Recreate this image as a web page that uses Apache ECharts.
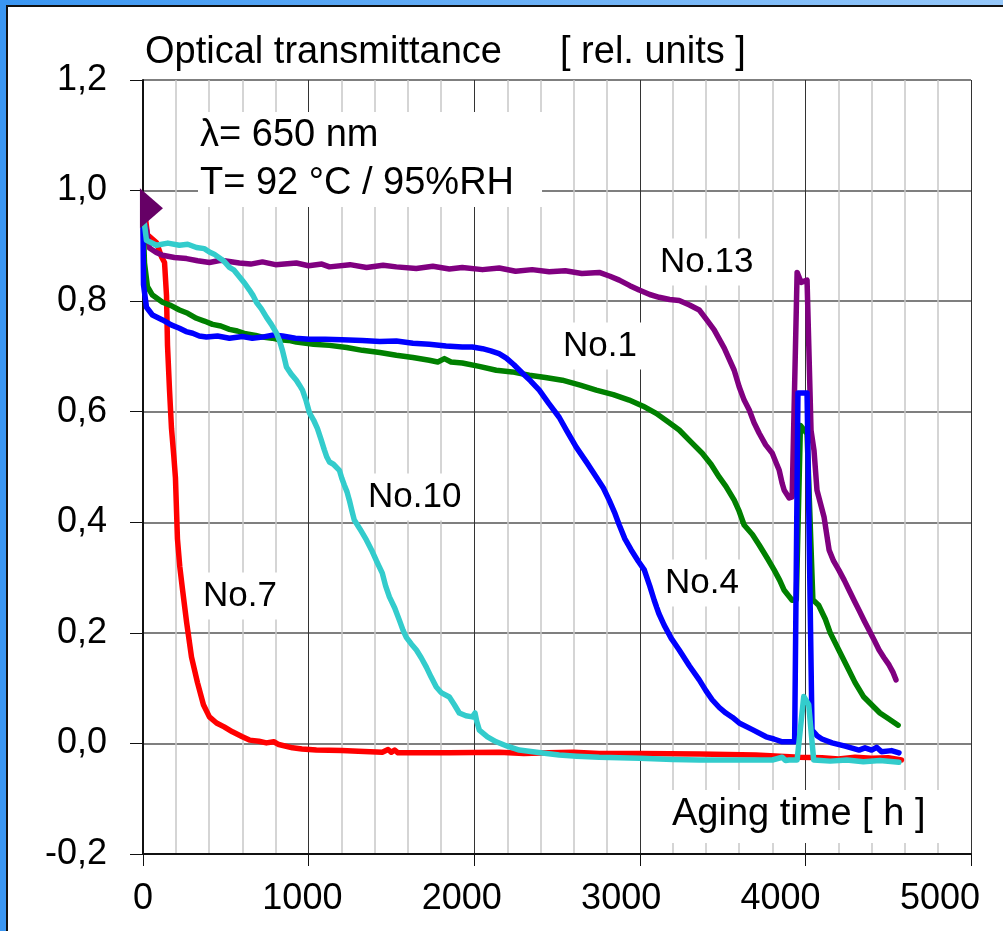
<!DOCTYPE html>
<html>
<head>
<meta charset="utf-8">
<script src="https://cdn.jsdelivr.net/npm/echarts@6/dist/echarts.min.js"></script>
<style>
  html, body { margin: 0; padding: 0; background: #fff; }
  #chart { width: 1003px; height: 931px; }
</style>
</head>
<body>
<div id="chart"></div>
<script>
// aging time [h] / relative transmittance
var no7 = [[0,0.99],[15,0.95],[27,0.92],[81,0.906],[112,0.88],[130,0.87],[142,0.81],[148,0.72],[160,0.64],[172,0.57],[186,0.52],[196,0.48],[208,0.37],[222,0.32],[238,0.28],[263,0.22],[293,0.156],[329,0.11],[365,0.07],[401,0.048],[444,0.037],[490,0.03],[540,0.021],[600,0.012],[643,0.006],[700,0.004],[745,0.001],[790,0.003],[820,-0.002],[903,-0.008],[960,-0.01],[1047,-0.012],[1200,-0.013],[1300,-0.014],[1445,-0.016],[1480,-0.011],[1500,-0.016],[1520,-0.012],[1540,-0.017],[1850,-0.017],[2151,-0.016],[2300,-0.018],[2450,-0.017],[2600,-0.016],[2755,-0.018],[3000,-0.018],[3359,-0.019],[3700,-0.021],[3962,-0.025],[4100,-0.026],[4200,-0.028],[4300,-0.025],[4400,-0.027],[4500,-0.026],[4580,-0.03]];
var no1 = [[0,0.95],[9,0.869],[27,0.826],[57,0.811],[118,0.798],[170,0.792],[220,0.784],[270,0.778],[323,0.769],[370,0.764],[420,0.758],[470,0.755],[522,0.749],[570,0.746],[620,0.741],[680,0.738],[721,0.735],[780,0.733],[826,0.73],[880,0.729],[926,0.726],[1030,0.722],[1126,0.72],[1230,0.716],[1325,0.711],[1430,0.707],[1530,0.702],[1630,0.698],[1729,0.693],[1780,0.69],[1820,0.696],[1860,0.69],[1928,0.688],[2030,0.682],[2133,0.675],[2230,0.672],[2333,0.666],[2430,0.662],[2532,0.657],[2640,0.648],[2737,0.639],[2840,0.631],[2936,0.621],[3020,0.61],[3099,0.597],[3170,0.582],[3238,0.567],[3310,0.545],[3377,0.525],[3430,0.505],[3479,0.482],[3520,0.465],[3570,0.44],[3600,0.42],[3630,0.395],[3680,0.378],[3721,0.359],[3770,0.335],[3811,0.314],[3845,0.295],[3872,0.277],[3920,0.259],[3945,0.26],[3970,0.575],[4010,0.56],[4045,0.26],[4080,0.25],[4120,0.225],[4150,0.2],[4200,0.17],[4250,0.14],[4300,0.11],[4350,0.085],[4400,0.07],[4450,0.055],[4500,0.045],[4560,0.033]];
var no4 = [[0,0.93],[3,0.83],[21,0.789],[57,0.775],[118,0.766],[170,0.757],[220,0.751],[260,0.745],[300,0.742],[340,0.737],[383,0.735],[450,0.737],[522,0.733],[600,0.736],[660,0.733],[721,0.735],[790,0.739],[842,0.737],[920,0.733],[1005,0.731],[1100,0.731],[1200,0.73],[1325,0.729],[1430,0.727],[1530,0.728],[1630,0.724],[1729,0.722],[1830,0.719],[1928,0.717],[1989,0.717],[2050,0.714],[2100,0.71],[2150,0.705],[2194,0.697],[2240,0.685],[2290,0.67],[2340,0.656],[2393,0.639],[2450,0.615],[2513,0.59],[2560,0.565],[2616,0.536],[2680,0.508],[2737,0.482],[2780,0.462],[2815,0.44],[2850,0.416],[2876,0.395],[2910,0.37],[2948,0.35],[2990,0.33],[3027,0.314],[3060,0.285],[3087,0.259],[3115,0.235],[3147,0.214],[3190,0.19],[3238,0.169],[3300,0.14],[3359,0.115],[3400,0.095],[3437,0.079],[3480,0.065],[3520,0.055],[3560,0.047],[3600,0.037],[3680,0.025],[3763,0.012],[3810,0.008],[3860,0.003],[3935,0.003],[3955,0.634],[4010,0.634],[4040,0.024],[4070,0.014],[4100,0.008],[4161,0.001],[4240,-0.005],[4324,-0.012],[4360,-0.008],[4400,-0.012],[4430,-0.007],[4460,-0.015],[4520,-0.013],[4565,-0.017]];
var no10 = [[0,0.96],[21,0.91],[81,0.901],[150,0.905],[220,0.901],[270,0.903],[323,0.897],[370,0.895],[401,0.889],[430,0.885],[462,0.878],[490,0.872],[522,0.861],[550,0.856],[582,0.844],[615,0.832],[643,0.82],[665,0.81],[685,0.798],[715,0.786],[745,0.771],[775,0.758],[806,0.742],[825,0.728],[842,0.711],[855,0.695],[866,0.681],[895,0.668],[926,0.657],[945,0.648],[963,0.639],[985,0.62],[1005,0.598],[1030,0.585],[1053,0.57],[1075,0.55],[1095,0.531],[1110,0.518],[1126,0.509],[1150,0.505],[1186,0.494],[1200,0.48],[1216,0.467],[1232,0.455],[1246,0.44],[1262,0.42],[1276,0.404],[1310,0.388],[1349,0.368],[1380,0.35],[1410,0.33],[1445,0.308],[1465,0.285],[1488,0.265],[1520,0.245],[1548,0.223],[1570,0.205],[1590,0.192],[1620,0.18],[1651,0.169],[1680,0.155],[1711,0.138],[1740,0.12],[1771,0.102],[1800,0.092],[1850,0.084],[1880,0.07],[1910,0.055],[1950,0.05],[1989,0.048],[2005,0.055],[2015,0.04],[2031,0.024],[2080,0.012],[2133,0.003],[2200,-0.005],[2272,-0.012],[2400,-0.017],[2513,-0.021],[2620,-0.023],[2755,-0.025],[3000,-0.027],[3200,-0.029],[3359,-0.03],[3600,-0.03],[3800,-0.03],[3860,-0.025],[3880,-0.031],[3902,-0.03],[3950,-0.03],[3990,0.085],[4020,0.07],[4050,-0.03],[4150,-0.032],[4250,-0.03],[4350,-0.033],[4450,-0.031],[4565,-0.034]];
var no13 = [[0,0.96],[10,0.94],[21,0.929],[39,0.896],[80,0.888],[118,0.883],[190,0.879],[263,0.877],[330,0.873],[401,0.87],[470,0.874],[582,0.869],[650,0.867],[721,0.871],[800,0.866],[926,0.869],[1000,0.864],[1080,0.867],[1126,0.862],[1250,0.866],[1350,0.861],[1450,0.865],[1530,0.862],[1650,0.859],[1750,0.863],[1850,0.858],[1928,0.861],[2050,0.857],[2151,0.86],[2250,0.854],[2350,0.857],[2453,0.853],[2550,0.855],[2650,0.85],[2755,0.852],[2820,0.845],[2876,0.838],[2940,0.828],[2996,0.82],[3060,0.812],[3117,0.807],[3180,0.803],[3238,0.801],[3300,0.793],[3359,0.784],[3400,0.768],[3449,0.748],[3510,0.715],[3570,0.675],[3600,0.645],[3630,0.621],[3661,0.603],[3690,0.58],[3721,0.561],[3760,0.54],[3800,0.525],[3820,0.51],[3842,0.494],[3860,0.47],[3872,0.458],[3902,0.444],[3920,0.446],[3950,0.852],[3974,0.834],[4010,0.838],[4034,0.566],[4052,0.53],[4070,0.458],[4113,0.409],[4143,0.35],[4170,0.33],[4203,0.313],[4235,0.295],[4264,0.277],[4295,0.258],[4324,0.241],[4355,0.222],[4384,0.205],[4415,0.187],[4445,0.169],[4475,0.155],[4505,0.142],[4530,0.128],[4547,0.115]];
// start marker of No.13
var startMark = [[51, 0.968]];

var xTicks = { min: 0, max: 5000, step: 1000 };
var yTicks = { min: -0.2, max: 1.2, step: 0.2 };
// the x tick labels in the original sit on a slightly narrower spacing than the grid
var xLabelMax = 5195;

var FONT = '"Liberation Sans", Arial, sans-serif';

function line(name, data, color) {
  return {
    name: name,
    type: 'line',
    data: data,
    showSymbol: false,
    silent: true,
    lineStyle: { color: color, width: 5.5, join: 'round', cap: 'round' },
    itemStyle: { color: color }
  };
}

function label(text, x, y, size) {
  return {
    type: 'text', x: x, y: y, z: 100,
    style: {
      text: text, fill: '#000', fontSize: size, fontFamily: FONT,
      verticalAlign: 'middle', backgroundColor: '#fff', padding: [6, 6]
    }
  };
}

var chart = echarts.init(document.getElementById('chart'));
chart.setOption({
  animation: false,
  backgroundColor: '#fff',
  grid: { left: 143, right: 32, top: 80, bottom: 77, outerBoundsMode: 'none', containLabel: false },
  xAxis: [{
    type: 'value',
    min: xTicks.min, max: xTicks.max, interval: xTicks.step,
    axisLine: { show: true, onZero: false, lineStyle: { color: '#111', width: 2 } },
    axisTick: { show: true, length: 12, lineStyle: { color: '#111', width: 1 } },
    axisLabel: { show: false },
    splitLine: { show: true, lineStyle: { color: '#333', width: 1 } },
    minorTick: { show: false, splitNumber: 5 },
    minorSplitLine: { show: true, lineStyle: { color: '#c8c8c8', width: 1.5 } }
  }, {
    // label-only axis
    type: 'value', position: 'bottom', offset: 0,
    min: xTicks.min, max: xLabelMax, interval: xTicks.step,
    axisLine: { show: false }, axisTick: { show: false }, splitLine: { show: false },
    axisLabel: { color: '#000', fontSize: 36, fontFamily: FONT, margin: 27,
      showMaxLabel: false,
      formatter: function (v) { return v % 1000 === 0 ? String(v) : ''; } }
  }],
  yAxis: {
    type: 'value',
    min: yTicks.min, max: yTicks.max, interval: yTicks.step,
    axisLine: { show: true, lineStyle: { color: '#111', width: 2 } },
    axisTick: { show: true, length: 13, lineStyle: { color: '#111', width: 1 } },
    axisLabel: {
      color: '#000', fontSize: 36, fontFamily: FONT, margin: 36,
      formatter: function (v) { return v.toFixed(1).replace('.', ','); }
    },
    splitLine: { show: true, lineStyle: { color: '#555', width: 1.5 } }
  },
  series: [
    line('No.7', no7, '#ff0000'),
    line('No.13', no13, '#800080'),
    line('No.1', no1, '#008000'),
    line('No.4', no4, '#0000ff'),
    line('No.10', no10, '#33cccc'),
    {
      type: 'scatter', data: startMark, silent: true, z: 10, clip: false,
      symbol: 'triangle', symbolRotate: -90, symbolSize: [40, 23],
      itemStyle: { color: '#660066', opacity: 1 }
    }
  ],
  graphic: [
    // frame
    { type: 'rect', shape: { x: 0, y: 0, width: 1003, height: 5 },
      style: { fill: new echarts.graphic.LinearGradient(0, 0, 1, 0, [
        { offset: 0, color: '#3a96f2' }, { offset: 1, color: '#96c8fa' }]) } },
    { type: 'rect', shape: { x: 0, y: 5, width: 1003, height: 2 }, style: { fill: '#111' } },
    { type: 'rect', shape: { x: 0, y: 0, width: 6, height: 931 }, style: { fill: '#3a96f2' } },
    { type: 'rect', shape: { x: 6, y: 5, width: 2, height: 926 }, style: { fill: '#111' } },
    // title
    { type: 'text', x: 145, y: 53, style: { text: 'Optical transmittance', fontSize: 38, fontFamily: FONT, fill: '#000', verticalAlign: 'middle' } },
    { type: 'text', x: 560, y: 53, style: { text: '[ rel. units ]', fontSize: 38, fontFamily: FONT, fill: '#000', verticalAlign: 'middle' } },
    // conditions
    { type: 'text', x: 198, y: 112, z: 100,
      style: { text: 'λ= 650 nm\nT= 92 °C / 95%RH', fontSize: 38, fontFamily: FONT, fill: '#000',
        verticalAlign: 'top', lineHeight: 47.5, backgroundColor: '#fff', padding: [0, 28, 0, 2] } },
    label('No.13', 654, 262, 35),
    label('No.1', 557, 346, 35),
    label('No.10', 362, 497, 35),
    label('No.7', 197, 596, 35),
    label('No.4', 659, 583, 35),
    { type: 'text', x: 660, y: 790, z: 100,
      style: { text: 'Aging time [ h ]', fontSize: 38, fontFamily: FONT, fill: '#000',
        verticalAlign: 'top', backgroundColor: '#fff', padding: [6, 17, 9, 12] } }
  ]
});
</script>
</body>
</html>
